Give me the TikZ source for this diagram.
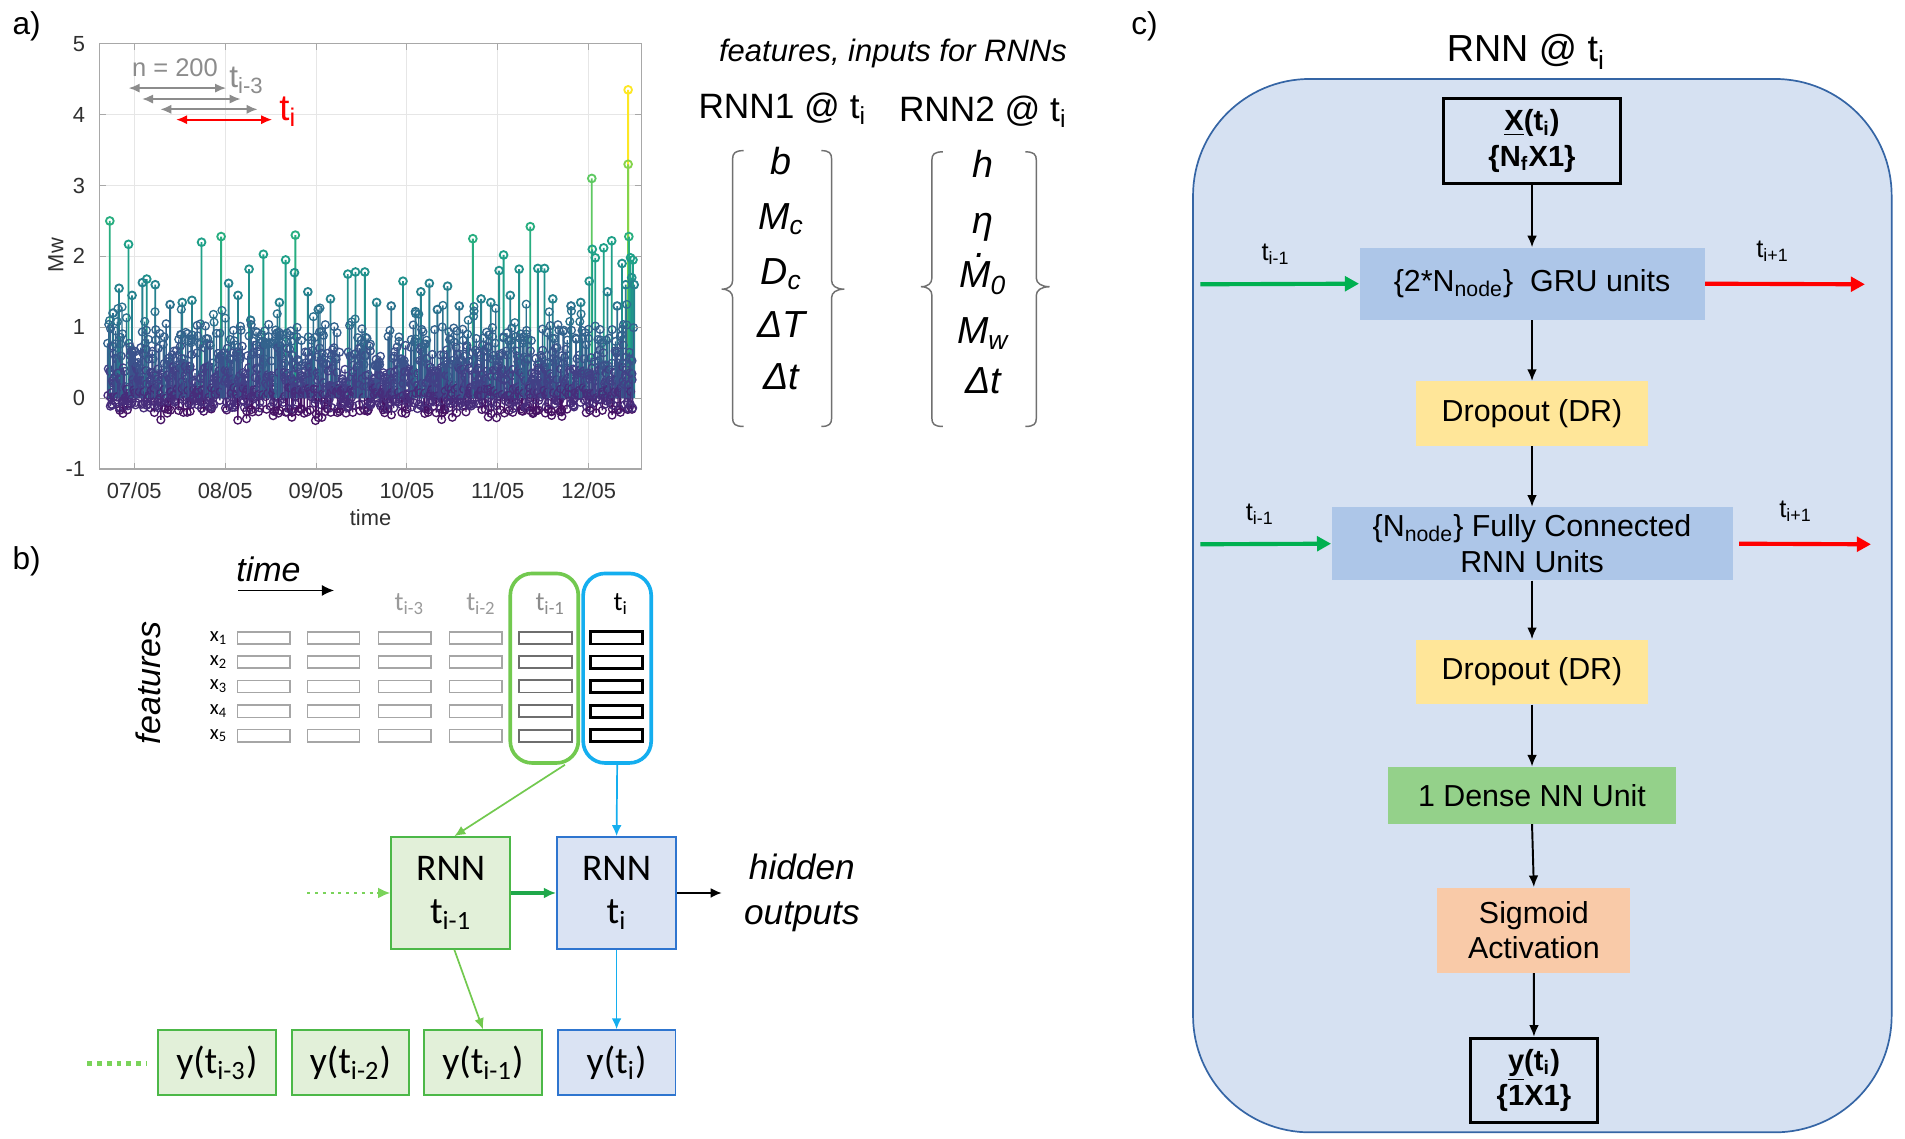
\documentclass[tikz,border=0pt]{standalone}
\usepackage{fontspec}
\setmainfont{Liberation Sans}
\newfontfamily\carl{Carlito}
\usetikzlibrary{arrows.meta,calc}
\definecolor{vc0}{HTML}{471365}
\definecolor{vc1}{HTML}{472D7B}
\definecolor{vc2}{HTML}{424086}
\definecolor{vc3}{HTML}{3B528B}
\definecolor{vc4}{HTML}{33638D}
\definecolor{vc5}{HTML}{2C728E}
\definecolor{vc6}{HTML}{26828E}
\definecolor{vc7}{HTML}{21918C}
\definecolor{vc8}{HTML}{1FA088}
\definecolor{vc9}{HTML}{28AE80}
\definecolor{vc10}{HTML}{3FBC73}
\definecolor{vc11}{HTML}{5EC962}
\definecolor{vc12}{HTML}{84D44B}
\definecolor{vc13}{HTML}{ADDC30}
\definecolor{vc14}{HTML}{D8E219}
\definecolor{vc15}{HTML}{FDE725}
\definecolor{gridc}{HTML}{E6E6E6}
\definecolor{axc}{HTML}{A8A8A8}
\definecolor{tickc}{HTML}{303030}
\definecolor{arrg}{HTML}{8C8C8C}
\definecolor{cbg}{HTML}{D6E1F2}
\definecolor{cbd}{HTML}{3565A5}
\definecolor{grub}{HTML}{ADC6E8}
\definecolor{dropc}{HTML}{FFE699}
\definecolor{densec}{HTML}{94D18A}
\definecolor{sigc}{HTML}{F9CAA8}
\definecolor{cgreen}{HTML}{00B050}
\definecolor{cred}{HTML}{FF0000}
\definecolor{bgreen}{HTML}{72C94F}
\definecolor{bblue}{HTML}{14AEEF}
\definecolor{gfill}{HTML}{E2F0D9}
\definecolor{gdraw}{HTML}{4CB848}
\definecolor{bfill}{HTML}{DAE3F3}
\definecolor{bdraw}{HTML}{2E75CF}
\definecolor{cellg}{HTML}{A6A6A6}
\definecolor{cellm}{HTML}{6E6E6E}
\definecolor{tgray}{HTML}{9A9A9A}
\definecolor{darkg}{HTML}{1FA84A}
\definecolor{dotg}{HTML}{7AD35A}
\definecolor{brk}{HTML}{707070}
\newcommand\fs[2]{\fontsize{#1}{#2}\selectfont}
\newcommand\Mdot{\ooalign{M\cr\hidewidth\kern0.3em\smash{\raisebox{0.8em}{.}}\hidewidth\cr}}
\tikzset{
  blk/.style={-{Latex[length=4.8pt,width=4pt]}, line width=0.8pt, black},
  sidearrow/.style={-{Triangle[length=5.8pt,width=6pt]}, line width=1.7pt},
  cbox/.style={inner sep=0pt, align=center, font=\fs{12.5}{15}},
  cell/.style={minimum width=21.5pt, minimum height=5pt, inner sep=0pt},
  rnnbox/.style={minimum width=49pt, minimum height=46pt, line width=0.8pt, align=center, inner sep=0pt, font=\carl\fs{15.5}{18}},
  ybox/.style={minimum width=48.5pt, minimum height=26.5pt, line width=0.8pt, inner sep=0pt, font=\carl\fs{15.5}{18}},
  gthin/.style={-{Latex[length=4.5pt,width=4pt]}, line width=0.7pt, bgreen},
  bthin/.style={-{Latex[length=4.5pt,width=4pt]}, line width=0.7pt, bblue},
  brkst/.style={brk, line width=0.6pt},
  tick/.style={font=\fs{9}{11}, text=tickc},
}
\begin{document}
\begin{tikzpicture}[x=0.5pt,y=-0.5pt]
\useasboundingbox (0,0) rectangle (1568,937);
\fill[white] (0,0) rectangle (1568,937);

% ================= panel a: plot =================
\node[font=\fs{13}{15}] (la) at (22,22) {a)};
\fill[white] (82,36) rectangle (528,386);
\draw[gridc,line width=0.4pt]
  \foreach \gx in {110.5,185.3,260.1,334.9,409.7,484.5}{(\gx,36) -- (\gx,386)}
  \foreach \gy in {94.3,152.7,211,269.3,327.7}{(82,\gy) -- (528,\gy)};
% tall events, drawn first
\foreach \px/\pv in {517/4.35, 517/3.3, 487.1/3.1, 90.4/2.5, 436.5/2.42, 243.1/2.3, 182/2.28, 517.6/2.28, 389.2/2.25, 503.5/2.22, 165.9/2.2, 105.8/2.17, 496.9/2.12, 487.5/2.1, 216.8/2.03, 414.5/2.02, 490/1.98, 519/1.98, 235.1/1.95, 521/1.95, 442.7/1.83, 448.2/1.83, 205/1.82, 427.3/1.82, 410.8/1.8, 292.6/1.78, 300.3/1.78, 242.4/1.77, 286.3/1.75, 520/1.7, 120.8/1.68, 331.7/1.65, 485/1.65, 117.2/1.63, 188.2/1.62, 353.4/1.62, 127.8/1.6, 515/1.6, 368.4/1.58, 253.4/1.5, 346.4/1.5, 108.7/1.45, 195.9/1.45, 93/1.2, 98/1.55, 140/1.32, 150/1.35, 158/1.38, 230/1.35, 262/1.25, 272/1.4, 310/1.35, 322/1.3, 342/1.22, 360/1.25, 378/1.3, 396/1.4, 404/1.35, 420/1.45, 455/1.4, 470/1.3, 478/1.35, 500/1.5, 508/1.3, 512/1.9, 522/1.6}{
  \pgfmathtruncatemacro\bin{max(0,min(15,floor((\pv+0.45)/0.3)))}
  \pgfmathsetmacro\yy{327.7-58.33*\pv}
  \draw[vc\bin,line width=0.75pt] (\px,327.7) -- (\px,\yy) circle[radius=3.2];
}
% dense background of small events
\pgfmathsetseed{2024}
\foreach \k in {0,...,1399}{
  \pgfmathsetmacro\xx{88.5+\k*0.309+rnd}
  \pgfmathsetmacro\ra{rnd}
  \pgfmathsetmacro\rb{rnd}
  \pgfmathsetmacro\vv{-0.22+1.3*\ra*(0.6+0.4*\rb)+0.3*\ra^8-0.12*(\rb<0.08)}
  \pgfmathtruncatemacro\bin{max(0,min(15,floor((\vv+0.45)/0.3)))}
  \pgfmathsetmacro\yy{327.7-58.33*\vv}
  \draw[vc\bin,line width=0.55pt] (\xx,327.7) -- (\xx,\yy) circle[radius=3.2];
}
% axes frame and ticks
\draw[axc,line width=0.5pt] (82,36) rectangle (528,386);
\draw[axc,line width=0.4pt]
  \foreach \gx in {110.5,185.3,260.1,334.9,409.7,484.5}{(\gx,386) -- (\gx,381) (\gx,36) -- (\gx,41)}
  \foreach \gy in {94.3,152.7,211,269.3,327.7}{(82,\gy) -- (87,\gy) (528,\gy) -- (523,\gy)};
\foreach \v/\gy in {5/36,4/94.3,3/152.7,2/211,1/269.3,0/327.7,-1/386}{
  \node[tick,anchor=east] (yt\v) at (77,\gy) {\v};
}
\foreach \i/\lab/\gx in {1/{07/05}/110.5,2/{08/05}/185.3,3/{09/05}/260.1,4/{10/05}/334.9,5/{11/05}/409.7,6/{12/05}/484.5}{
  \node[tick] (xt\i) at (\gx,404) {\lab};
}
\node[tick,rotate=90] (mw) at (46,210) {Mw};
\node[tick] (tx) at (305,426) {time};
% moving windows
\coordinate (w1a) at (106,72.5);  \coordinate (w1b) at (186,72.5);
\coordinate (w2a) at (117,81.5);  \coordinate (w2b) at (198,81.5);
\coordinate (w3a) at (132,90);    \coordinate (w3b) at (212,90);
\coordinate (w4a) at (145,98.5);  \coordinate (w4b) at (224,98.5);
\draw[arrg,line width=0.7pt,{Latex[length=4.5pt,width=3.8pt]}-{Latex[length=4.5pt,width=3.8pt]}] (w1a) -- (w1b);
\draw[arrg,line width=0.7pt,{Latex[length=4.5pt,width=3.8pt]}-{Latex[length=4.5pt,width=3.8pt]}] (w2a) -- (w2b);
\draw[arrg,line width=0.7pt,{Latex[length=4.5pt,width=3.8pt]}-{Latex[length=4.5pt,width=3.8pt]}] (w3a) -- (w3b);
\draw[cred,line width=0.7pt,{Latex[length=4.5pt,width=3.8pt]}-{Latex[length=4.5pt,width=3.8pt]}] (w4a) -- (w4b);
\node[text=arrg,font=\fs{10.5}{12}] (n200) at (144,56) {n = 200};
\node[text=arrg,font=\fs{13}{15}] (ti3a) at (203,66) {t\textsubscript{i-3}};
\node[text=cred,font=\fs{15}{17}] (tired) at (237,92) {t\textsubscript{i}};

% ================= panel a: feature vectors =================
\node[font=\itshape\fs{12.75}{15},anchor=base] (fin) at (735,50.5) {features, inputs for RNNs};
\node[font=\fs{14.5}{17},anchor=base] (r1) at (644,97.5) {RNN1 @ t\textsubscript{i}};
\node[font=\fs{14.5}{17},anchor=base] (r2) at (809,100) {RNN2 @ t\textsubscript{i}};
\foreach \nm/\t/\by in {e11/b/144, e12/M\textsubscript{c}/189, e13/D\textsubscript{c}/234, e14/ΔT/278, e15/Δt/321}{
  \node[font=\itshape\fs{15.5}{18},anchor=base,inner sep=1pt] (\nm) at (643,\by) {\t};
}
\foreach \nm/\t/\by in {e21/h/146, e22/η/192, e23/\Mdot\textsubscript{0}/237, e24/M\textsubscript{w}/283, e25/Δt/324}{
  \node[font=\itshape\fs{15.5}{18},anchor=base,inner sep=1pt] (\nm) at (809,\by) {\t};
}
\draw[brkst] (612,124) .. controls (605,124) and (603,126) .. (603,131) -- (603,231) .. controls (603,235) and (600,238) .. (594,238) .. controls (600,238) and (603,241) .. (603,245) -- (603,344) .. controls (603,349) and (605,351) .. (612,351);
\draw[brkst] (676,124) .. controls (682.5,124) and (684.5,126) .. (684.5,131) -- (684.5,231) .. controls (684.5,235) and (688,238) .. (695,238) .. controls (688,238) and (684.5,241) .. (684.5,245) -- (684.5,344) .. controls (684.5,349) and (682.5,351) .. (676,351);
\draw[brkst] (776,125) .. controls (769,125) and (767,127) .. (767,132) -- (767,229) .. controls (767,233) and (764,236) .. (758,236) .. controls (764,236) and (767,239) .. (767,243) -- (767,344) .. controls (767,349) and (769,351) .. (776,351);
\draw[brkst] (844,125) .. controls (851,125) and (853,127) .. (853,132) -- (853,229) .. controls (853,233) and (857,236) .. (864,236) .. controls (857,236) and (853,239) .. (853,243) -- (853,344) .. controls (853,349) and (851,351) .. (844,351);

% ================= panel b =================
\node[font=\fs{13}{15}] (lb) at (22,462) {b)};
\node[font=\itshape\fs{14}{16}] (timeb) at (221,469) {time};
\coordinate (tarra) at (196,486); \coordinate (tarrb) at (275,486);
\draw[-{Latex[length=5pt,width=4.5pt]},line width=0.6pt] (tarra) -- (tarrb);
\node[rotate=90,font=\itshape\fs{14}{16}] (feat) at (122,562) {features};
\node[text=tgray,font=\carl\fs{11}{13}] (tl3) at (337,497) {t\textsubscript{i-3}};
\node[text=tgray,font=\carl\fs{11}{13}] (tl2) at (396,497) {t\textsubscript{i-2}};
\node[text=cellm!80,font=\carl\fs{11}{13}] (tl1) at (453,497) {t\textsubscript{i-1}};
\node[font=\carl\fs{11}{13}] (tl0) at (511,497) {t\textsubscript{i}};
\foreach \r/\ry in {1/525,2/545,3/565,4/585.5,5/605.5}{
  \node[font=\carl\fs{8.5}{10}] (xl\r) at (180,\ry) {x\textsubscript{\r}};
}
\foreach \c/\cx/\cc/\lw in {1/217/cellg/0.7pt,2/274.5/cellg/0.7pt,3/333/cellg/0.7pt,4/391.5/cellg/0.7pt,5/449/cellm/0.8pt,6/507.5/black/1.1pt}{
  \foreach \r/\ry in {1/525,2/545,3/565,4/585.5,5/605.5}{
    \node[cell,draw=\cc,line width=\lw] (cell\c\r) at (\cx,\ry) {};
  }
}
\node[draw=bgreen,line width=1.5pt,rounded corners=9pt,minimum width=28pt,minimum height=78pt] (gcol) at (448,550) {};
\node[draw=bblue,line width=1.5pt,rounded corners=9pt,minimum width=28pt,minimum height=78pt] (bcol) at (508,550) {};
\node[rnnbox,draw=gdraw,fill=gfill] (rg) at (371,735) {RNN\\t\textsubscript{i-1}};
\node[rnnbox,draw=bdraw,fill=bfill] (rb) at (507.5,735) {RNN\\t\textsubscript{i}};
\node[ybox,draw=gdraw,fill=gfill] (y1) at (178.5,874.5) {y(t\textsubscript{i-3})};
\node[ybox,draw=gdraw,fill=gfill] (y2) at (288.5,874.5) {y(t\textsubscript{i-2})};
\node[ybox,draw=gdraw,fill=gfill] (y3) at (397.5,874.5) {y(t\textsubscript{i-1})};
\node[ybox,draw=bdraw,fill=bfill] (y4) at (507.5,874.5) {y(t\textsubscript{i})};
\node[font=\itshape\fs{14.5}{18.5},align=center] (hid) at (660,735) {hidden\\outputs};
\draw[gthin] ([xshift=8.5pt]gcol.south) -- ([xshift=1.5pt]rg.north);
\draw[bthin] (bcol.south) -- (rb.north);
\draw[-{Latex[length=5pt,width=4.5pt]},line width=1.5pt,darkg] (rg.east) -- (rb.west);
\coordinate (dotst) at (253,735);
\draw[dotg,line width=1.2pt,dotted] (dotst) -- ([xshift=-4pt]rg.west);
\draw[-{Latex[length=5pt,width=4.5pt]},dotg,line width=0.8pt] ([xshift=-4.5pt]rg.west) -- (rg.west);
\coordinate (hidend) at (594,735);
\draw[-{Latex[length=4.5pt,width=4pt]},line width=0.6pt] (rb.east) -- (hidend);
\draw[gthin] ([xshift=1.5pt]rg.south) -- (y3.north);
\draw[bthin] (rb.south) -- (y4.north);
\coordinate (ydota) at (72,875); \coordinate (ydotb) at (121,875);
\draw[dotg,line width=2pt,dotted] (ydota) -- (ydotb);

% ================= panel c =================
\node[font=\fs{13}{15}] (lc) at (942,22) {c)};
\node[font=\fs{15.5}{18},anchor=base] (ctitle) at (1256,51) {RNN @ t\textsubscript{i}};
\draw[draw=cbd,fill=cbg,line width=0.7pt,rounded corners=48pt] (982,65) rectangle (1557,932);
\node[cbox,draw=black,line width=1.2pt,minimum width=73pt,minimum height=35pt,font=\bfseries\fs{12}{14.5}] (xin) at (1261,116) {\underline{X}(t\textsubscript{i})\\\{N\textsubscript{f}X1\}};
\node[cbox,fill=grub,minimum width=142pt,minimum height=29.5pt] (gru) at (1261,233.5) {\{2*N\textsubscript{node}\}\ \ GRU units};
\node[cbox,fill=dropc,minimum width=95.25pt,minimum height=26.5pt] (drop1) at (1261,340.5) {Dropout (DR)};
\node[cbox,fill=grub,minimum width=165pt,minimum height=30pt] (fc) at (1261,447.5) {\{N\textsubscript{node}\} Fully Connected\\RNN Units};
\node[cbox,fill=dropc,minimum width=95.25pt,minimum height=26.5pt] (drop2) at (1261,553) {Dropout (DR)};
\node[cbox,fill=densec,minimum width=118.75pt,minimum height=23.3pt] (dense) at (1261,654.7) {1 Dense NN Unit};
\node[cbox,fill=sigc,minimum width=79.5pt,minimum height=35pt,font=\fs{12.5}{14.5}] (sig) at (1262.5,765.6) {Sigmoid\\Activation};
\node[cbox,draw=black,line width=1.2pt,minimum width=52pt,minimum height=34.75pt,font=\bfseries\fs{12}{14.5}] (yout) at (1262.6,889.3) {\underline{y}(t\textsubscript{i})\\\{1X1\}};
\draw[blk] (xin.south) -- (gru.north);
\draw[blk] (gru.south) -- (drop1.north);
\draw[blk] (drop1.south) -- (fc.north);
\draw[blk] (fc.south) -- (drop2.north);
\draw[blk] (drop2.south) -- (dense.north);
\draw[blk] (dense.south) -- (sig.north);
\draw[blk] (sig.south) -- (yout.north);
\coordinate (g1s) at (988,234);  \coordinate (r1e) at (1535,234);
\coordinate (g2s) at (988,448);  \coordinate (r2e) at (1540,448);
\draw[sidearrow,cgreen] (g1s) -- (gru.west);
\draw[sidearrow,cred] (gru.east) -- (r1e);
\draw[sidearrow,cgreen] (g2s) -- (fc.west);
\draw[sidearrow,cred] ([xshift=2.5pt]fc.east) -- (r2e);
\node[font=\fs{10.5}{12}] (tg1) at (1050,209) {t\textsubscript{i-1}};
\node[font=\fs{10.5}{12}] (tr1) at (1459,207) {t\textsubscript{i+1}};
\node[font=\fs{10.5}{12}] (tg2) at (1037,423) {t\textsubscript{i-1}};
\node[font=\fs{10.5}{12}] (tr2) at (1478,421) {t\textsubscript{i+1}};
\end{tikzpicture}
\end{document}
